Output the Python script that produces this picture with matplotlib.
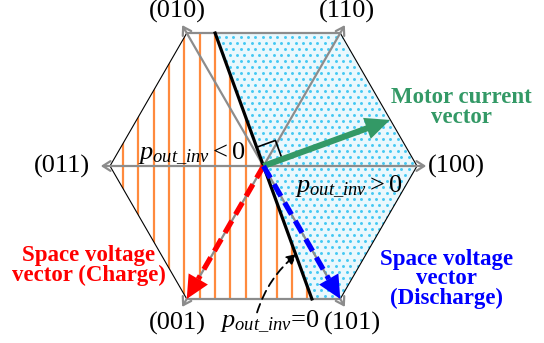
import numpy as np
import matplotlib.pyplot as plt
from matplotlib.patches import Polygon

plt.rcParams['font.family'] = ['Liberation Serif', 'DejaVu Serif']
plt.rcParams['mathtext.fontset'] = 'custom'
plt.rcParams['mathtext.rm'] = 'Liberation Serif'
plt.rcParams['mathtext.it'] = 'Liberation Serif:italic'

# switching states at hexagon vertices (angle in degrees)
vertex_labels = ['(100)', '(110)', '(010)', '(011)', '(001)', '(101)']
vertex_angles = [0, 60, 120, 180, 240, 300]

# motor current vector: angle (deg) and length (hexagon radius = 1)
motor_angle = 20
motor_len = 0.877

# space voltage vectors (index into vertex lists)
charge_idx = 4
discharge_idx = 5

orange = '#ff8a3d'
cyan = '#45c9f3'
green = '#339966'
gray = '#8c8c8c'

px = 153.5  # pixels per unit
cx, cy = 263.5, 166.0
fig = plt.figure(figsize=(5.44, 3.43), dpi=100)
ax = fig.add_axes([0, 0, 1, 1])
ax.set_xlim(-cx / px, (544 - cx) / px)
ax.set_ylim(-(343 - cy) / px, cy / px)
ax.axis('off')

ang = np.radians(vertex_angles)
vx, vy = np.cos(ang), np.sin(ang)

# p_out_inv = 0 boundary, perpendicular to the motor current
b_ang = np.radians(motor_angle + 90)
h = np.sin(np.pi / 3)
bx = h / np.tan(b_ang)
top_b = (bx, h)
bot_b = (-bx, -h)

left_poly = [top_b, (vx[2], vy[2]), (vx[3], vy[3]), (vx[4], vy[4]), bot_b]
right_poly = [top_b, (vx[1], vy[1]), (vx[0], vy[0]), (vx[5], vy[5]), bot_b]

# discharge region: dotted light blue
rp = Polygon(right_poly, closed=True, facecolor='#eaf8fd', edgecolor='none', zorder=1)
ax.add_patch(rp)
dd = 7.3 / px
gx, gy = [], []
for j, yy in enumerate(np.arange(-1.0, 1.0, 6.0 / px)):
    off = dd / 2 if j % 2 else 0
    for xx in np.arange(-0.6 + off, 1.1, dd):
        gx.append(xx)
        gy.append(yy)
dots = ax.scatter(gx, gy, s=4.5, marker='o', color=cyan, linewidths=0, zorder=2)
dots.set_clip_path(rp)

# charge region: vertical orange stripes
lp = Polygon(left_poly, closed=True, facecolor='white', edgecolor='none', zorder=1)
ax.add_patch(lp)
for xs in np.arange(-0.915, 0.3, 0.1):
    ln, = ax.plot([xs, xs], [-1, 1], color=orange, lw=1.6, zorder=2)
    ln.set_clip_path(lp)

# hexagon outline
for i in range(6):
    j = (i + 1) % 6
    col, lw = ('black', 0.8)
    if i in (1, 4):
        col, lw = (gray, 1.6)
    ax.plot([vx[i], vx[j]], [vy[i], vy[j]], color=col, lw=lw, zorder=3)

# gray axes to each vertex
for i in range(6):
    ax.annotate('', xy=(1.06 * vx[i], 1.06 * vy[i]), xytext=(0, 0),
                arrowprops=dict(arrowstyle='->,head_length=0.55,head_width=0.35',
                                color=gray, lw=1.6, shrinkA=0, shrinkB=0),
                zorder=4)

# boundary line
ax.plot([top_b[0], bot_b[0]], [top_b[1], bot_b[1]], color='black', lw=2.3, zorder=5)

# right-angle marker
m = np.radians(motor_angle)
u = np.array([np.cos(m), np.sin(m)])
v = np.array([np.cos(b_ang), np.sin(b_ang)])
sq = 0.13
pts = np.array([sq * v, sq * (u + v), sq * u])
ax.plot(pts[:, 0], pts[:, 1], color='black', lw=1.2, zorder=5)

# motor current vector
ax.arrow(0, 0, motor_len * u[0], motor_len * u[1], width=0.04, head_width=0.145,
         head_length=0.16, length_includes_head=True, color=green, lw=0, zorder=6)

# space voltage vectors (dashed)
hl = 0.15
for idx, col in [(charge_idx, 'red'), (discharge_idx, 'blue')]:
    tx, ty = vx[idx], vy[idx]
    bxx, byy = tx * (1 - hl), ty * (1 - hl)
    ax.plot([0, bxx], [0, byy], color=col, lw=3.8, dashes=(2.6, 1.4), zorder=6)
    ax.arrow(bxx, byy, tx - bxx, ty - byy, width=0.001, head_width=0.145,
             head_length=hl, length_includes_head=True, color=col, lw=0, zorder=6)

# vertex labels
fs = 19
ax.text(-1.13, -0.045, vertex_labels[3], fontsize=fs, ha='right', va='baseline')
ax.text(1.072, -0.045, vertex_labels[0], fontsize=fs, ha='left', va='baseline')
ax.text(-0.563, 0.964, vertex_labels[2], fontsize=fs, ha='center', va='baseline')
ax.text(0.544, 0.964, vertex_labels[1], fontsize=fs, ha='center', va='baseline')
ax.text(-0.563, -1.068, vertex_labels[4], fontsize=fs, ha='center', va='baseline')
ax.text(0.577, -1.068, vertex_labels[5], fontsize=fs, ha='center', va='baseline')

# p_out_inv labels
ax.text(-0.818, 0.04, r'$p_{out\_inv} < 0$', fontsize=19, ha='left', va='baseline')
ax.text(0.205, -0.17, r'$p_{out\_inv} > 0$', fontsize=19, ha='left', va='baseline')
ax.text(-0.284, -1.05, r'$p_{out\_inv}$=0', fontsize=19, ha='left', va='baseline')
ax.annotate('', xy=(0.218, -0.573), xytext=(-0.042, -0.954),
            arrowprops=dict(arrowstyle='-|>,head_length=0.6,head_width=0.3', color='black',
                            lw=1.3, linestyle=(0, (5, 3)), shrinkA=0, shrinkB=0,
                            connectionstyle='arc3,rad=-0.15'),
            zorder=7)

# descriptive labels
ax.text(-1.14, -0.75, 'Space voltage\nvector (Charge)', fontsize=16.5, fontweight='bold',
        color='red', ha='center', va='baseline', linespacing=0.92)
ax.text(1.195, -0.9, 'Space voltage\nvector\n(Discharge)', fontsize=16.5, fontweight='bold',
        color='blue', ha='center', va='baseline', linespacing=0.92)
ax.text(1.29, 0.28, 'Motor current\nvector', fontsize=16.5, fontweight='bold',
        color=green, ha='center', va='baseline', linespacing=0.92)

fig.savefig('out.png', dpi=100)
